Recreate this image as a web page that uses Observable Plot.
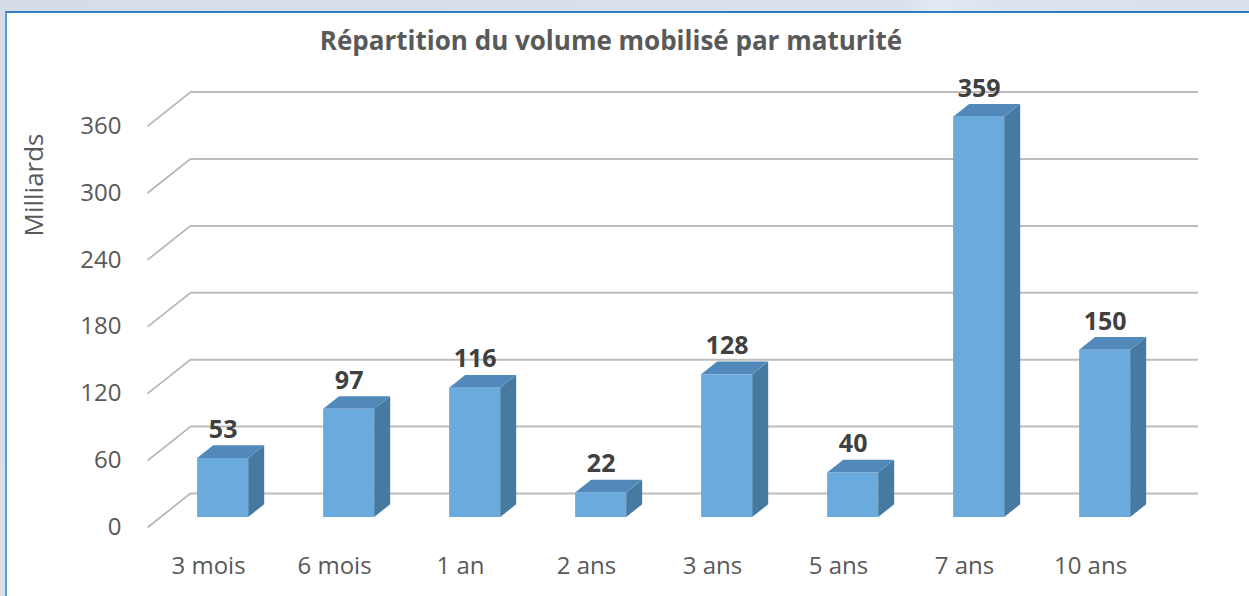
<!DOCTYPE html>
<html><head><meta charset="utf-8">
<script src="https://cdn.jsdelivr.net/npm/d3@7"></script>
<script src="https://cdn.jsdelivr.net/npm/@observablehq/plot@0.6"></script>
<style>
html,body{margin:0;padding:0;width:1249px;height:596px;overflow:hidden;background:#dde5ef;}
#bg{position:absolute;left:0;top:0;width:1249px;height:596px;
 background:linear-gradient(118deg,#d5dde8 0%,#d9e1ec 58%,#e3eaf4 60%,#dbe3ee 64%,#d6dee9 96%,#e2e9f4 97.5%);}
#card{position:absolute;left:5px;top:11px;width:1260px;height:600px;background:#fff;
 border-left:2px solid #5b9bd5;border-top:2px solid #2f7dc3;}
#chart{position:absolute;left:0;top:0;}
#title{position:absolute;left:0;width:1222px;top:23px;line-height:34px;text-align:center;
 font-family:"Open Sans",sans-serif;font-weight:700;font-size:26px;color:#595959;}
#ylab{position:absolute;left:33px;top:185px;transform:translate(-50%,-50%) rotate(-90deg);
 font-family:"Open Sans",sans-serif;font-size:26px;color:#595959;white-space:nowrap;}
</style></head>
<body>
<div id="bg"></div>
<div id="card"></div>
<div id="chart"></div>
<div id="title"></div>
<div id="ylab"></div>
<script>
const title = "Répartition du volume mobilisé par maturité";
const yLabel = "Milliards";
const categories = ["3 mois","6 mois","1 an","2 ans","3 ans","5 ans","7 ans","10 ans"];
const values = [53, 97, 116, 22, 128, 40, 359, 150];
const yTicks = [0, 60, 120, 180, 240, 300, 360];

// 3D projection layout (x in category units, y in value units)
const DX = 0.341, DY = 30.5;   // full depth offset front -> back plane
const D0 = 0.294, DD = 0.373;  // bar front depth, bar depth
const BW = 0.405;              // bar width in category units

const bars = categories.map((c, i) => {
  const x1 = i + 0.5 - BW / 2 + D0 * DX;
  const x2 = x1 + BW;
  const base = D0 * DY;
  const top = values[i] + D0 * DY;
  return {c, i, v: values[i], x1, x2, base, top};
});
const sidePts = bars.flatMap(b => [
  {k: b.i, x: b.x2, y1: b.base, y2: b.top},
  {k: b.i, x: b.x2 + DD * DX, y1: b.base + DD * DY, y2: b.top + DD * DY}
]);
const topPts = bars.flatMap(b => [
  {k: b.i, y: b.top, x1: b.x1, x2: b.x2},
  {k: b.i, y: b.top + DD * DY, x1: b.x1 + DD * DX, x2: b.x2 + DD * DX}
]);

document.getElementById("title").textContent = title;
document.getElementById("ylab").textContent = yLabel;

const chart = Plot.plot({
  width: 1249, height: 596, margin: 0,
  x: {type: "linear", domain: [0, categories.length], range: [147, 1155], axis: null},
  y: {type: "linear", domain: [0, 360], range: [527, 527 - 360 * 1.115], axis: null},
  style: {background: "transparent", fontFamily: "Open Sans, sans-serif", overflow: "visible"},
  marks: [
    Plot.link(yTicks, {x1: 0, y1: d => d, x2: DX, y2: d => d + DY, stroke: "#b3b3b3", strokeWidth: 1.6}),
    Plot.ruleY(yTicks, {y: d => d + DY, x1: DX, x2: categories.length + DX, stroke: "#bcbcbc", strokeWidth: 2}),
    Plot.text(yTicks, {x: 0, y: d => d, text: d => String(d), textAnchor: "end", dx: -26, fontSize: 24, fill: "#595959"}),
    Plot.area(sidePts, {x1: "x", x2: "x", y1: "y1", y2: "y2", z: "k", fill: "#477aa1", curve: "linear"}),
    Plot.area(topPts, {y1: "y", y2: "y", x1: "x1", x2: "x2", z: "k", fill: "#5289bb", curve: "linear"}),
    Plot.rect(bars, {x1: "x1", x2: "x2", y1: "base", y2: "top", fill: "#6aaadd"}),
    Plot.text(bars, {x: d => (d.x1 + d.x2) / 2, y: d => d.top + DD * DY, text: d => String(d.v), dy: -16,
      fontSize: 25, fontWeight: "bold", fill: "#404040"}),
    Plot.text(categories, {x: (d, i) => i + 0.5, y: 0, text: d => d, dx: -2, dy: 39, fontSize: 24, fill: "#595959"})
  ]
});
document.getElementById("chart").appendChild(chart);
</script>
</body></html>
